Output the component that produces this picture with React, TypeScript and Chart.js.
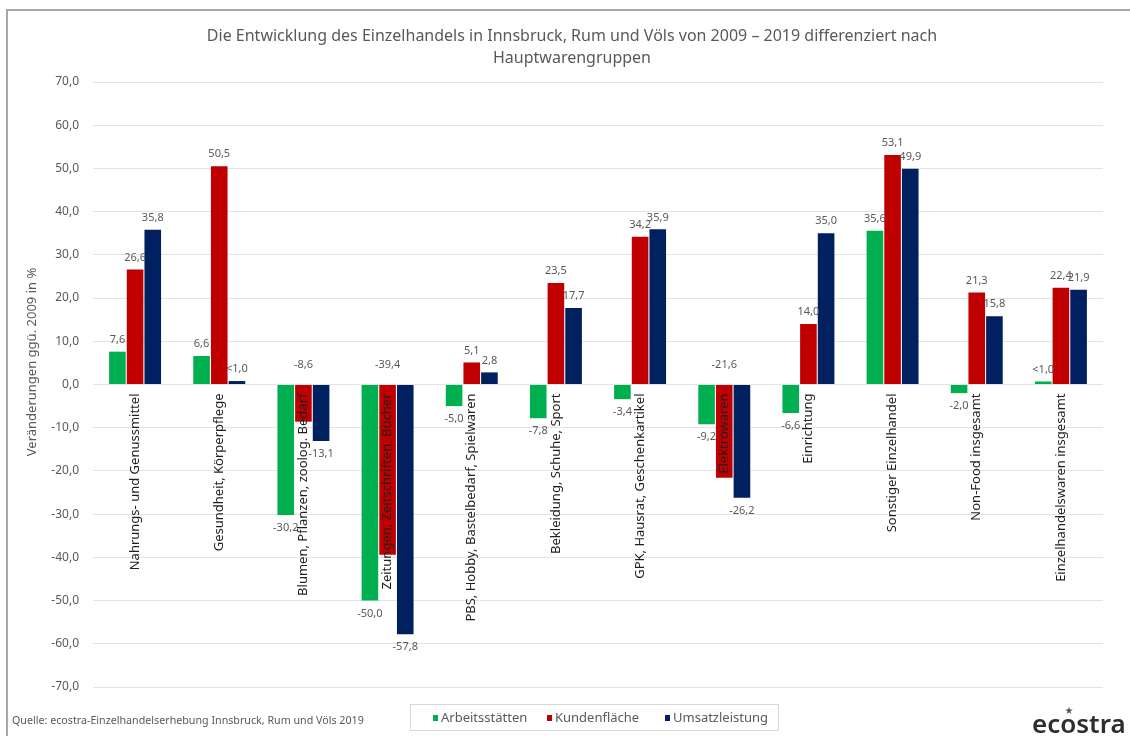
import React, { useEffect, useRef } from "react";
import { Chart, registerables } from "chart.js";

Chart.register(...registerables);

const titleLines = [
  "Die Entwicklung des Einzelhandels in Innsbruck, Rum und Völs von 2009 – 2019 differenziert nach",
  "Hauptwarengruppen",
];
const yAxisTitle = "Veränderungen ggü. 2009 in %";
const sourceText = "Quelle: ecostra-Einzelhandelserhebung Innsbruck, Rum und Völs 2019";
const logoText = "ecostra";

const categories = [
  "Nahrungs- und Genussmittel",
  "Gesundheit, Körperpflege",
  "Blumen, Pflanzen, zoolog. Bedarf",
  "Zeitungen, Zeitschriften, Bücher",
  "PBS, Hobby, Bastelbedarf, Spielwaren",
  "Bekleidung, Schuhe, Sport",
  "GPK, Hausrat, Geschenkartikel",
  "Elektrowaren",
  "Einrichtung",
  "Sonstiger Einzelhandel",
  "Non-Food insgesamt",
  "Einzelhandelswaren insgesamt",
];

const seriesNames = ["Arbeitsstätten", "Kundenfläche", "Umsatzleistung"];
const arbeitsstaetten = [7.6, 6.6, -30.2, -50.0, -5.0, -7.8, -3.4, -9.2, -6.6, 35.6, -2.0, 0.7];
const kundenflaeche = [26.6, 50.5, -8.6, -39.4, 5.1, 23.5, 34.2, -21.6, 14.0, 53.1, 21.3, 22.4];
const umsatzleistung = [35.8, 0.8, -13.1, -57.8, 2.8, 17.7, 35.9, -26.2, 35.0, 49.9, 15.8, 21.9];
const seriesColors = ["#00B050", "#C00000", "#002060"];

const yMin = -70;
const yMax = 70;
const yStep = 10;

const FONT = "'Noto Sans', 'Open Sans', sans-serif";

function fmt(v: number): string {
  if (v > 0 && v < 1) return "<1,0";
  return v.toFixed(1).replace(".", ",");
}

const decorPlugin = {
  id: "decor",
  beforeDraw(chart: any) {
    const ctx = chart.ctx;
    ctx.save();
    ctx.fillStyle = "#ffffff";
    ctx.fillRect(0, 0, chart.width, chart.height);
    ctx.fillStyle = "#a8a8a8";
    ctx.fillRect(6, 9, 2, chart.height - 9);
    ctx.fillRect(6, 9, chart.width - 6, 2);
    ctx.restore();
  },
  afterDatasetsDraw(chart: any) {
    const ctx = chart.ctx;
    const yScale = chart.scales.y;
    const zeroY = yScale.getPixelForValue(0);
    ctx.save();
    ctx.font = `11px ${FONT}`;
    ctx.fillStyle = "#595959";
    ctx.textAlign = "center";
    ctx.textBaseline = "middle";
    chart.data.datasets.forEach((ds: any, di: number) => {
      const meta = chart.getDatasetMeta(di);
      meta.data.forEach((el: any, i: number) => {
        const v = ds.data[i] as number;
        let y: number;
        if (di === 1 && v < 0) {
          y = zeroY - 20;
        } else if (v >= 0) {
          y = el.y - 12;
        } else {
          y = el.y + 13;
        }
        ctx.fillText(fmt(v), el.x, y);
      });
    });
    ctx.restore();
  },
  afterDraw(chart: any) {
    const ctx = chart.ctx;
    ctx.save();
    // Title
    ctx.fillStyle = "#595959";
    ctx.font = `16px ${FONT}`;
    ctx.textAlign = "center";
    ctx.textBaseline = "middle";
    ctx.fillText(titleLines[0], 572, 36);
    ctx.fillText(titleLines[1], 572, 58);

    // Y axis title
    ctx.save();
    ctx.translate(32, 362);
    ctx.rotate(-Math.PI / 2);
    ctx.font = `13px ${FONT}`;
    ctx.fillStyle = "#595959";
    ctx.fillText(yAxisTitle, 0, 0);
    ctx.restore();

    // Source
    ctx.font = `10.7px ${FONT}`;
    ctx.textAlign = "left";
    ctx.fillStyle = "#595959";
    ctx.fillText(sourceText, 12, 721);

    // Legend box
    ctx.strokeStyle = "#d9d9d9";
    ctx.lineWidth = 1;
    ctx.strokeRect(410.5, 704.5, 368, 26);
    ctx.font = `13px ${FONT}`;
    const legendX = [433, 547, 665];
    chart.data.datasets.forEach((ds: any, di: number) => {
      const lx = legendX[di];
      ctx.fillStyle = ds.backgroundColor;
      ctx.fillRect(lx, 715, 5, 6);
      ctx.fillStyle = "#595959";
      ctx.textAlign = "left";
      ctx.fillText(ds.label, lx + 8, 718);
    });

    // Logo
    ctx.fillStyle = "#2e2e2e";
    ctx.font = `600 26px ${FONT}`;
    ctx.textAlign = "left";
    ctx.textBaseline = "alphabetic";
    ctx.fillText(logoText, 1032, 733);
    ctx.font = `10px 'DejaVu Sans', sans-serif`;
    ctx.fillStyle = "#555555";
    ctx.textAlign = "center";
    ctx.textBaseline = "middle";
    ctx.fillText("★", 1069, 711);
    ctx.restore();
  },
};

export default function App() {
  const canvasRef = useRef<HTMLCanvasElement | null>(null);

  useEffect(() => {
    if (!canvasRef.current) return;
    const chart = new Chart(canvasRef.current, {
      type: "bar",
      data: {
        labels: categories,
        datasets: [
          { label: seriesNames[0], data: arbeitsstaetten, backgroundColor: seriesColors[0] },
          { label: seriesNames[1], data: kundenflaeche, backgroundColor: seriesColors[1] },
          { label: seriesNames[2], data: umsatzleistung, backgroundColor: seriesColors[2] },
        ],
      },
      options: {
        animation: false,
        responsive: true,
        maintainAspectRatio: false,
        datasets: {
          bar: { categoryPercentage: 0.63, barPercentage: 0.94 },
        },
        layout: { padding: { top: 82, right: 27, bottom: 49, left: 0 } },
        plugins: {
          legend: { display: false },
          title: { display: false },
          tooltip: { enabled: false },
        },
        scales: {
          x: {
            position: { y: 0 } as any,
            grid: { display: false, drawTicks: false },
            border: { display: false },
            ticks: {
              autoSkip: false,
              minRotation: 90,
              maxRotation: 90,
              padding: 9,
              color: "#1f1f1f",
              font: { family: FONT, size: 13 },
              z: 1,
            },
          },
          y: {
            position: "left",
            min: yMin,
            max: yMax,
            afterFit: (s: any) => {
              s.width = 93;
            },
            grid: { color: "#e4e4e4", drawTicks: false, lineWidth: 1 },
            border: { display: false },
            ticks: {
              stepSize: yStep,
              padding: 14,
              color: "#595959",
              font: { family: FONT, size: 12 },
              callback: (v: any) => Number(v).toFixed(1).replace(".", ","),
            },
          },
        },
      },
      plugins: [decorPlugin],
    });
    return () => chart.destroy();
  }, []);

  return (
    <div
      style={{
        position: "absolute",
        left: 0,
        top: 0,
        width: 1130,
        height: 736,
        background: "#ffffff",
      }}
    >
      <canvas ref={canvasRef} />
    </div>
  );
}
